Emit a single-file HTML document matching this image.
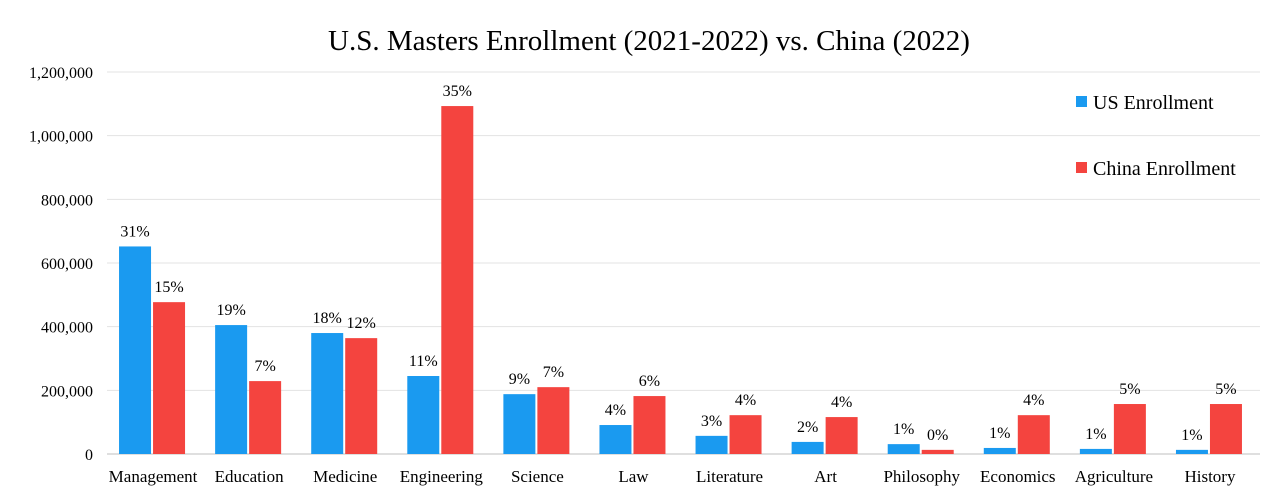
<!DOCTYPE html>
<html><head><meta charset="utf-8"><style>
body{margin:0;background:#fff;}
svg{display:block;font-family:"Liberation Serif",serif;}
</style></head><body>
<svg id="chart" width="1278" height="504">
<text x="649" y="50" font-size="29" text-anchor="middle" fill="#000">U.S. Masters Enrollment (2021-2022) vs. China (2022)</text>
<g id="grid"></g><g id="bars"></g><g id="labels"></g>
<g>
<rect x="1076" y="96" width="11" height="11" fill="#1a9af0"/>
<text x="1093" y="109" font-size="20">US Enrollment</text>
<rect x="1076" y="162" width="11" height="11" fill="#f4443f"/>
<text x="1093" y="175" font-size="20">China Enrollment</text>
</g>
</svg>
<script>
const categories=["Management","Education","Medicine","Engineering","Science","Law","Literature","Art","Philosophy","Economics","Agriculture","History"];
const usValues=[652000,405000,380000,245000,188000,91000,57000,38000,31000,19000,16000,13000];
const chinaValues=[477000,229000,364000,1093000,210000,182000,122000,116000,13000,122000,157000,157000];
const usPct=["31%","19%","18%","11%","9%","4%","3%","2%","1%","1%","1%","1%"];
const chinaPct=["15%","7%","12%","35%","7%","6%","4%","4%","0%","4%","5%","5%"];
const yTicks=[0,200000,400000,600000,800000,1000000,1200000];
const NS="http://www.w3.org/2000/svg";
const left=107,right=1260,y0=454,y1=72,maxV=1200000;
const step=(right-left)/categories.length;
const y=v=>y0-(v/maxV)*(y0-y1);
const cx=i=>left+(i+0.5)*step;
function mk(tag,attrs,parent,txt){const e=document.createElementNS(NS,tag);for(const k in attrs)e.setAttribute(k,attrs[k]);if(txt!==undefined)e.textContent=txt;document.getElementById(parent).appendChild(e);return e;}
yTicks.forEach((t,i)=>{
 const l=mk('line',{x1:left,x2:right,y1:y(t),y2:y(t),stroke:t===0?'#bfbfbf':'#e3e3e3','stroke-width':1},'grid');
 
 
 const tx=mk('text',{x:93,y:y(t)+6,'font-size':16,'text-anchor':'end'},'grid',t.toLocaleString('en-US'));
 
 
});
categories.forEach((c,i)=>{
 const x=cx(i);
 const b1=mk('rect',{x:x-36,y:y(usValues[i]),width:32,height:y0-y(usValues[i]),fill:'#1a9af0'},'bars');
 
 
 const b2=mk('rect',{x:x-2,y:y(chinaValues[i]),width:32,height:y0-y(chinaValues[i]),fill:'#f4443f'},'bars');
 
 
 const t1=mk('text',{x:x-20,y:y(usValues[i])-10,'font-size':16,'text-anchor':'middle'},'labels',usPct[i]);
 
 
 const t2=mk('text',{x:x+14,y:y(chinaValues[i])-10,'font-size':16,'text-anchor':'middle'},'labels',chinaPct[i]);
 
 
 const xl=mk('text',{x:x-2,y:482,'font-size':17,'text-anchor':'middle'},'labels',c);
 
 
});
</script>
</body></html>
